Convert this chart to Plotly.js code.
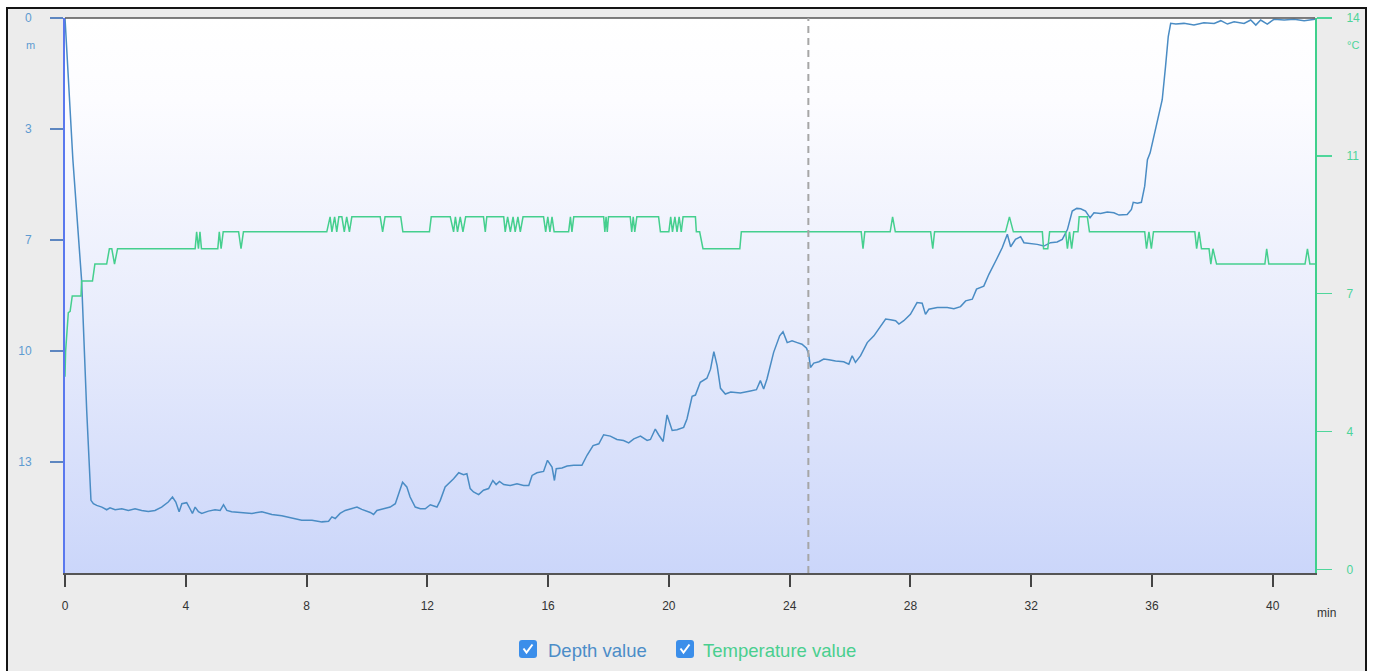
<!DOCTYPE html>
<html>
<head>
<meta charset="utf-8">
<script src="https://cdn.plot.ly/plotly-3.0.1.min.js"></script>
<style>
  html, body { margin: 0; padding: 0; background: #ffffff; overflow: hidden; }
  #frame {
    position: absolute; left: 6px; top: 7px; width: 1361px; height: 720px;
    box-sizing: border-box; border: 2px solid #141414; background: #ececec;
  }
  #chart { position: absolute; left: 0; top: 0; width: 1374px; height: 671px; }
</style>
</head>
<body>
<div id="frame"></div>
<div id="chart"></div>
<script>
// Dive log: depth (m) and water temperature (°C) against elapsed time (min)
const depthTime = [0, 0.26, 0.55, 0.72, 0.86, 0.94, 1.05, 1.22, 1.38, 1.49, 1.66, 1.88, 2.10, 2.32, 2.54, 2.76, 2.98, 3.20, 3.42, 3.56, 3.67, 3.78, 3.87, 4.03, 4.14, 4.22, 4.31, 4.42, 4.53, 4.75, 4.97, 5.14, 5.25, 5.36, 5.52, 5.85, 6.19, 6.52, 6.85, 7.18, 7.51, 7.84, 8.18, 8.51, 8.73, 8.84, 8.95, 9.11, 9.28, 9.50, 9.67, 9.83, 10.11, 10.22, 10.33, 10.55, 10.77, 10.94, 11.05, 11.18, 11.32, 11.43, 11.60, 11.77, 11.93, 12.10, 12.32, 12.43, 12.59, 12.70, 12.87, 13.04, 13.20, 13.31, 13.42, 13.53, 13.70, 13.86, 14.03, 14.17, 14.28, 14.39, 14.53, 14.75, 14.97, 15.19, 15.36, 15.47, 15.63, 15.85, 15.98, 16.13, 16.21, 16.27, 16.46, 16.63, 16.85, 17.12, 17.29, 17.49, 17.68, 17.84, 18.06, 18.28, 18.50, 18.67, 18.84, 19.06, 19.28, 19.39, 19.55, 19.66, 19.81, 19.94, 20.11, 20.27, 20.49, 20.60, 20.77, 20.88, 21.04, 21.26, 21.38, 21.49, 21.60, 21.71, 21.87, 22.05, 22.37, 22.70, 22.90, 23.03, 23.14, 23.25, 23.47, 23.67, 23.78, 23.92, 24.08, 24.25, 24.41, 24.56, 24.63, 24.69, 24.80, 24.97, 25.13, 25.30, 25.52, 25.79, 25.96, 26.07, 26.18, 26.35, 26.57, 26.79, 27.01, 27.18, 27.34, 27.51, 27.62, 27.78, 28.00, 28.22, 28.39, 28.50, 28.61, 28.89, 29.22, 29.44, 29.66, 29.83, 30.05, 30.19, 30.43, 30.60, 30.85, 31.04, 31.21, 31.32, 31.48, 31.65, 31.76, 31.98, 32.20, 32.42, 32.64, 32.86, 33.03, 33.20, 33.36, 33.51, 33.64, 33.80, 33.95, 34.08, 34.30, 34.52, 34.74, 34.91, 35.18, 35.32, 35.38, 35.52, 35.65, 35.76, 35.85, 35.94, 36.07, 36.20, 36.34, 36.45, 36.54, 36.62, 36.79, 37.06, 37.39, 37.72, 38.06, 38.28, 38.50, 38.72, 39.05, 39.27, 39.44, 39.60, 39.82, 40.04, 40.38, 40.71, 41.04, 41.40];
const depthValue = [0, 4.2, 7.8, 11.7, 14.34, 14.44, 14.49, 14.54, 14.62, 14.56, 14.62, 14.59, 14.64, 14.59, 14.64, 14.67, 14.64, 14.54, 14.39, 14.24, 14.39, 14.68, 14.44, 14.41, 14.59, 14.73, 14.54, 14.68, 14.73, 14.66, 14.62, 14.64, 14.47, 14.64, 14.68, 14.71, 14.73, 14.68, 14.76, 14.80, 14.86, 14.93, 14.93, 14.98, 14.96, 14.83, 14.88, 14.73, 14.64, 14.59, 14.54, 14.61, 14.70, 14.76, 14.64, 14.59, 14.54, 14.44, 14.14, 13.80, 13.94, 14.24, 14.54, 14.59, 14.59, 14.47, 14.54, 14.34, 13.94, 13.85, 13.70, 13.52, 13.58, 13.55, 13.99, 14.09, 14.17, 14.04, 13.99, 13.75, 13.87, 13.78, 13.87, 13.90, 13.85, 13.90, 13.90, 13.60, 13.52, 13.48, 13.15, 13.35, 13.75, 13.40, 13.38, 13.32, 13.30, 13.30, 13.00, 12.71, 12.66, 12.39, 12.43, 12.53, 12.56, 12.63, 12.51, 12.43, 12.56, 12.53, 12.22, 12.39, 12.59, 11.80, 12.26, 12.24, 12.17, 11.92, 11.25, 11.21, 10.83, 10.71, 10.44, 9.92, 10.34, 11.01, 11.18, 11.12, 11.15, 11.09, 11.05, 10.78, 11.03, 10.73, 9.94, 9.45, 9.33, 9.65, 9.60, 9.65, 9.70, 9.82, 9.99, 10.39, 10.26, 10.22, 10.14, 10.16, 10.20, 10.22, 10.29, 10.04, 10.24, 10.04, 9.65, 9.45, 9.15, 8.95, 8.97, 9.00, 9.10, 9.00, 8.81, 8.46, 8.48, 8.81, 8.66, 8.61, 8.61, 8.64, 8.58, 8.41, 8.36, 8.06, 7.97, 7.62, 7.18, 6.83, 6.43, 6.80, 6.58, 6.50, 6.68, 6.70, 6.73, 6.78, 6.68, 6.66, 6.58, 6.29, 5.74, 5.66, 5.67, 5.74, 5.94, 5.79, 5.81, 5.77, 5.79, 5.86, 5.84, 5.69, 5.48, 5.51, 5.48, 5.00, 4.21, 4.01, 3.52, 3.02, 2.43, 1.44, 0.55, 0.16, 0.18, 0.16, 0.21, 0.14, 0.16, 0.08, 0.18, 0.11, 0.16, 0.06, 0.21, 0.06, 0.18, 0.04, 0.06, 0.04, 0.08, 0.04];

const tempTime = [0, 0.02, 0.11, 0.17, 0.24, 0.53, 0.55, 0.91, 0.99, 1.38, 1.47, 1.55, 1.64, 1.74, 4.31, 4.36, 4.42, 4.47, 4.52, 5.06, 5.11, 5.17, 5.24, 5.75, 5.83, 5.91, 8.67, 8.78, 8.84, 8.93, 9.00, 9.07, 9.17, 9.25, 9.33, 9.42, 9.50, 10.44, 10.52, 10.60, 11.12, 11.19, 12.07, 12.13, 12.76, 12.87, 12.93, 13.00, 13.09, 13.18, 13.27, 13.86, 13.92, 13.97, 14.53, 14.58, 14.66, 14.75, 14.84, 14.91, 15.00, 15.08, 15.17, 15.85, 15.92, 15.99, 16.06, 16.13, 16.20, 16.68, 16.74, 16.79, 16.85, 17.84, 17.88, 17.92, 17.96, 18.00, 18.72, 18.77, 18.82, 18.87, 18.94, 19.66, 19.72, 20.00, 20.06, 20.12, 20.20, 20.27, 20.34, 20.41, 20.47, 20.55, 20.88, 20.91, 21.02, 21.13, 22.35, 22.40, 26.37, 26.43, 26.49, 27.33, 27.41, 27.50, 28.67, 28.74, 28.80, 31.15, 31.28, 31.41, 32.37, 32.41, 32.55, 32.61, 33.14, 33.20, 33.27, 33.34, 33.41, 33.55, 33.59, 33.86, 33.93, 35.76, 35.82, 35.90, 35.98, 36.05, 37.42, 37.48, 37.56, 37.64, 37.89, 37.95, 38.02, 38.14, 39.74, 39.80, 39.87, 41.07, 41.15, 41.23, 41.40];
const tempValue = [4.89, 5.53, 6.52, 6.55, 6.94, 6.94, 7.32, 7.32, 7.75, 7.75, 8.14, 8.14, 7.75, 8.14, 8.14, 8.57, 8.14, 8.57, 8.14, 8.14, 8.57, 8.14, 8.57, 8.57, 8.14, 8.57, 8.57, 8.95, 8.57, 8.95, 8.57, 8.95, 8.95, 8.57, 8.95, 8.57, 8.95, 8.95, 8.57, 8.95, 8.95, 8.57, 8.57, 8.95, 8.95, 8.57, 8.95, 8.57, 8.95, 8.57, 8.95, 8.95, 8.57, 8.95, 8.95, 8.57, 8.95, 8.57, 8.95, 8.57, 8.95, 8.57, 8.95, 8.95, 8.57, 8.95, 8.57, 8.95, 8.57, 8.57, 8.95, 8.57, 8.95, 8.95, 8.57, 8.95, 8.57, 8.95, 8.95, 8.57, 8.95, 8.57, 8.95, 8.95, 8.57, 8.57, 8.95, 8.57, 8.95, 8.57, 8.95, 8.57, 8.95, 8.95, 8.95, 8.57, 8.57, 8.14, 8.14, 8.57, 8.57, 8.14, 8.57, 8.57, 8.95, 8.57, 8.57, 8.14, 8.57, 8.57, 8.95, 8.57, 8.57, 8.14, 8.14, 8.57, 8.57, 8.14, 8.57, 8.14, 8.57, 8.57, 8.95, 8.95, 8.57, 8.57, 8.14, 8.57, 8.14, 8.57, 8.57, 8.14, 8.57, 8.14, 8.14, 7.75, 8.14, 7.75, 7.75, 8.14, 7.75, 7.75, 8.14, 7.75, 7.75];

const timeTicks = [0, 4, 8, 12, 16, 20, 24, 28, 32, 36, 40];
const depthTicks = [0, 3.3, 6.6, 9.9, 13.2];
const depthTickText = ['0', '3', '7', '10', '13'];
const tempTicks = [0, 3.5, 7, 10.5, 14];
const tempTickText = ['0', '4', '7', '11', '14'];
const cursorTime = [24.62];
const seriesNames = ['Depth value', 'Temperature value'];

const DEPTH_COLOR = '#4a8cc4';
const TEMP_COLOR = '#45cf8e';
const FONT = 'Liberation Sans, Arial, sans-serif';

// plot area in page pixels, used to place the unit labels and toggles
const PLOT = { l: 65, r: 1315, t: 18, b: 573 };
const px = x => (x - PLOT.l) / (PLOT.r - PLOT.l);
const py = y => (PLOT.b - y) / (PLOT.b - PLOT.t);

const gradientSvg = '<svg xmlns="http://www.w3.org/2000/svg" viewBox="0 0 10 100" width="10" height="100" preserveAspectRatio="none">' +
  '<defs><linearGradient id="g" x1="0" y1="0" x2="0" y2="1">' +
  '<stop offset="0" stop-color="#ffffff"/><stop offset="0.15" stop-color="#fcfcff"/>' +
  '<stop offset="0.55" stop-color="#e8ecfc"/><stop offset="1" stop-color="#cbd6fa"/>' +
  '</linearGradient></defs><rect x="0" y="0" width="10" height="100" fill="url(#g)"/></svg>';
const gradientSrc = 'data:image/svg+xml;charset=utf-8,' + encodeURIComponent(gradientSvg);

const traces = [
  {
    x: depthTime, y: depthValue, type: 'scatter', mode: 'lines', name: seriesNames[0],
    yaxis: 'y', line: { color: DEPTH_COLOR, width: 1.5 }
  },
  {
    x: tempTime, y: tempValue, type: 'scatter', mode: 'lines', name: seriesNames[1],
    yaxis: 'y2', line: { color: TEMP_COLOR, width: 1.5 }
  }
];

// toggle boxes under the plot
function checkbox(cx) {
  return [
    {
      type: 'path', xref: 'paper', yref: 'paper', xsizemode: 'pixel', ysizemode: 'pixel',
      xanchor: cx, yanchor: py(649),
      path: 'M -6,-9 L 6,-9 Q 9,-9 9,-6 L 9,6 Q 9,9 6,9 L -6,9 Q -9,9 -9,6 L -9,-6 Q -9,-9 -6,-9 Z',
      fillcolor: '#3b8eea', line: { width: 0 }, layer: 'above'
    },
    {
      type: 'path', xref: 'paper', yref: 'paper', xsizemode: 'pixel', ysizemode: 'pixel',
      xanchor: cx, yanchor: py(649),
      path: 'M -4.5,0.5 L -1.5,-3.5 L 4.5,4.5',
      line: { color: '#ffffff', width: 2 }, layer: 'above'
    }
  ];
}

const shapes = [
  { type: 'line', xref: 'paper', yref: 'paper', x0: 0, x1: 1, y0: 1, y1: 1,
    line: { color: '#555555', width: 1.5 } },
  { type: 'line', xref: 'x', yref: 'paper', x0: cursorTime[0], x1: cursorTime[0], y0: 0, y1: 1,
    line: { color: '#a6a6a6', width: 2, dash: '7px,5px' } },
  ...checkbox(px(528)),
  ...checkbox(px(685))
];

function label(text, x, y, size, color, xanchor) {
  return {
    text: text, xref: 'paper', yref: 'paper', x: px(x), y: py(y),
    xanchor: xanchor || 'center', yanchor: 'middle', showarrow: false,
    font: { family: FONT, size: size, color: color }
  };
}

const annotations = [
  label('m', 30, 45, 11, '#5e9bd1'),
  label('°C', 1353, 45, 11, '#4dd49a'),
  label('min', 1326, 613, 12, '#333333'),
  label(seriesNames[0], 546, 650, 18.5, '#4b8dc8', 'left'),
  label(seriesNames[1], 701, 650, 18.5, '#49cf8f', 'left')
];

const layout = {
  width: 1374, height: 671,
  margin: { l: PLOT.l, r: 1374 - PLOT.r, t: PLOT.t, b: 671 - PLOT.b, pad: 0 },
  paper_bgcolor: 'rgba(0,0,0,0)',
  plot_bgcolor: 'rgba(0,0,0,0)',
  showlegend: false,
  hovermode: false,
  font: { family: FONT },
  xaxis: {
    range: [0, 41.4], tickvals: timeTicks, ticks: 'outside', ticklen: 12, tickwidth: 2,
    tickcolor: '#444444', showline: true, linecolor: '#555555', linewidth: 2,
    showgrid: false, zeroline: false, ticklabelstandoff: 9,
    tickfont: { family: FONT, size: 12, color: '#333333' }
  },
  yaxis: {
    range: [16.5, 0], tickvals: depthTicks, ticktext: depthTickText, ticks: 'outside',
    ticklen: 13, tickwidth: 1.5, tickcolor: '#5d86c0', showline: true, linecolor: '#5a78ee',
    linewidth: 2, showgrid: false, zeroline: false, ticklabelstandoff: 16,
    tickfont: { family: FONT, size: 12, color: '#5e9bd1' }
  },
  yaxis2: {
    overlaying: 'y', side: 'right', range: [-0.094, 14], tickvals: tempTicks, ticktext: tempTickText,
    ticks: 'outside', ticklen: 15, tickwidth: 1.5, tickcolor: '#4fd69b', showline: true,
    linecolor: '#3fd08c', linewidth: 2, showgrid: false, zeroline: false, ticklabelstandoff: 12,
    tickfont: { family: FONT, size: 12, color: '#4dd49a' }
  },
  images: [{
    source: gradientSrc, xref: 'paper', yref: 'paper', x: 0, y: 1, sizex: 1, sizey: 1,
    xanchor: 'left', yanchor: 'top', sizing: 'stretch', layer: 'below'
  }],
  shapes: shapes,
  annotations: annotations
};

Plotly.newPlot('chart', traces, layout, { displayModeBar: false, staticPlot: true });
</script>
</body>
</html>
